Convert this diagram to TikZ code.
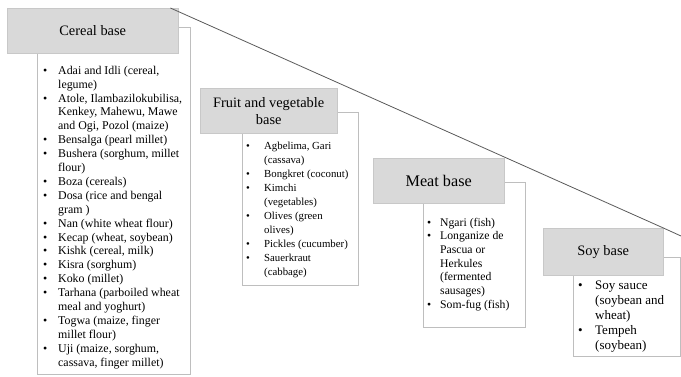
\documentclass[tikz,border=0pt]{standalone}
\usepackage{fontspec}
\setmainfont{Liberation Serif}
\usepackage{tikz}
\usetikzlibrary{calc}

\definecolor{headfill}{HTML}{D9D9D9}
\definecolor{headdraw}{HTML}{C8C8C8}
\definecolor{bodydraw}{HTML}{BEBEBE}
\definecolor{slopegray}{HTML}{5A5A5A}

% #1 height, #2 width, #3 top skip, #4 list
\newcommand{\foodbox}[4]{\parbox[c][#1][t]{#2}{\vspace*{#3}#4}}
% #1 bullet indent, #2 bullet column, #3 rows
\newcommand{\foodtab}[3]{\begin{tabular}{@{\hspace{#1}}p{#2}@{}l@{}}#3\end{tabular}}

\begin{document}
\begin{tikzpicture} [x=1pt, y=-1pt,
        headbox/.style={draw=headdraw, fill=headfill, inner sep=0pt, anchor=north west,
            align=center, font=\fontsize{14.4}{17}\selectfont},
        bodybox/.style={draw=bodydraw, fill=white, inner sep=0pt, anchor=north west}]
    \useasboundingbox (0,0) rectangle (681,376);

    % lists
    \node[bodybox, font=\fontsize{11.9}{13.9}\selectfont] (cerealbody) at (37,27)
        {\foodbox{347pt}{153pt}{37.3pt}{\foodtab{6pt}{15pt}{
            \textbullet & Adai and Idli (cereal,\\
             & legume)\\
            \textbullet & Atole, Ilambazilokubilisa,\\
             & Kenkey, Mahewu, Mawe\\
             & and Ogi, Pozol (maize)\\
            \textbullet & Bensalga (pearl millet)\\
            \textbullet & Bushera (sorghum, millet\\
             & flour)\\
            \textbullet & Boza (cereals)\\
            \textbullet & Dosa (rice and bengal\\
             & gram )\\
            \textbullet & Nan (white wheat flour)\\
            \textbullet & Kecap (wheat, soybean)\\
            \textbullet & Kishk (cereal, milk)\\
            \textbullet & Kisra (sorghum)\\
            \textbullet & Koko (millet)\\
            \textbullet & Tarhana (parboiled wheat\\
             & meal and yoghurt)\\
            \textbullet & Togwa (maize, finger\\
             & millet flour)\\
            \textbullet & Uji (maize, sorghum,\\
             & cassava, finger millet)}}};
    \node[bodybox, font=\fontsize{10.8}{14}\selectfont] (fruitbody) at (242,112)
        {\foodbox{173pt}{116pt}{27.2pt}{\foodtab{4pt}{18pt}{
            \textbullet & Agbelima, Gari\\
             & (cassava)\\
            \textbullet & Bongkret (coconut)\\
            \textbullet & Kimchi\\
             & (vegetables)\\
            \textbullet & Olives (green\\
             & olives)\\
            \textbullet & Pickles (cucumber)\\
            \textbullet & Sauerkraut\\
             & (cabbage)}}};
    \node[bodybox, font=\fontsize{11.7}{13.7}\selectfont] (meatbody) at (423,182)
        {\foodbox{145pt}{102pt}{34.4pt}{\foodtab{4pt}{13pt}{
            \textbullet & Ngari (fish)\\
            \textbullet & Longanize de\\
             & Pascua or\\
             & Herkules\\
             & (fermented\\
             & sausages)\\
            \textbullet & Som-fug (fish)}}};
    \node[bodybox, font=\fontsize{13}{15}\selectfont] (soybody) at (573,257)
        {\foodbox{99pt}{107pt}{22pt}{\foodtab{5pt}{17pt}{
            \textbullet & Soy sauce\\
             & (soybean and\\
             & wheat)\\
            \textbullet & Tempeh\\
             & (soybean)}}};

    % headers
    \node[headbox, minimum width=171pt, minimum height=45pt] (cereal) at (7,8) {Cereal base};
    \node[headbox, minimum width=137pt, minimum height=45pt] (fruit) at (200,88) {Fruit and vegetable\\base};
    \node[headbox, minimum width=131pt, minimum height=45pt, font=\fontsize{16.2}{19}\selectfont] (meat) at (373,158) {Meat base};
    \node[headbox, minimum width=120pt, minimum height=47pt] (soy) at (543,228) {Soy base};

    \coordinate (tail) at (681,236);
    \draw[slopegray, line width=0.8pt] ([xshift=-8pt]cereal.north east) -- (soy.north east) -- (tail);
\end{tikzpicture}
\end{document}
